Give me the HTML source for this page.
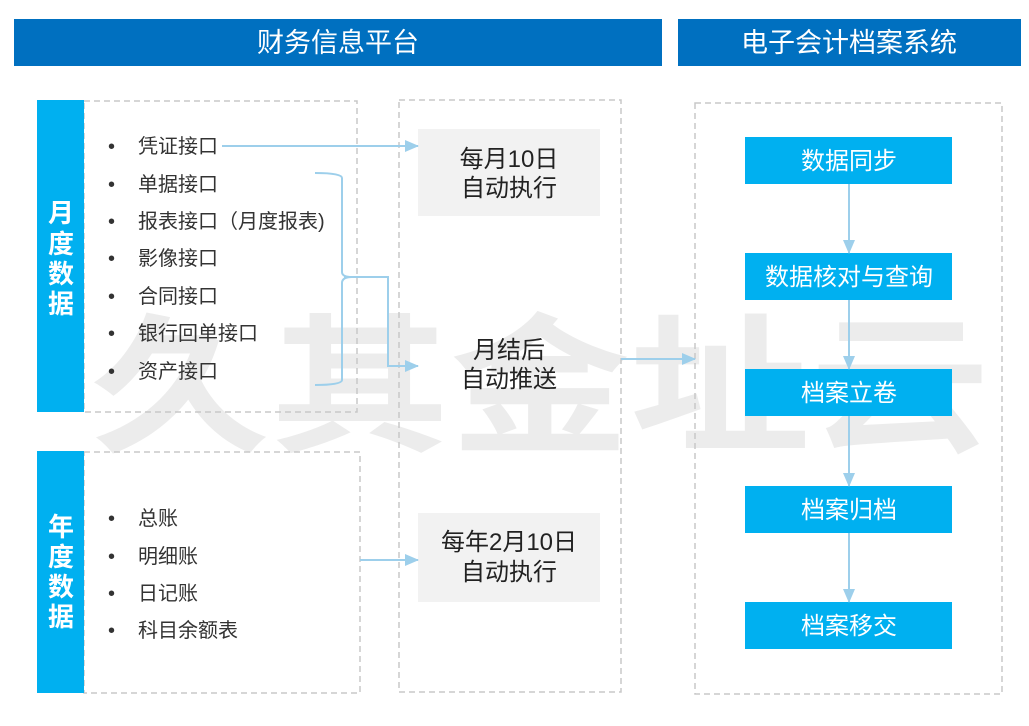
<!DOCTYPE html>
<html><head><meta charset="utf-8"><style>
body{margin:0;width:1029px;height:721px;background:#fff;overflow:hidden;font-family:"Liberation Sans","Noto Sans CJK SC",sans-serif}
svg text{font-family:"Liberation Sans","Noto Sans CJK SC",sans-serif}
</style></head><body>
<svg width="1029" height="721" viewBox="0 0 1029 721" xmlns="http://www.w3.org/2000/svg">
<defs><marker id="a" markerWidth="14" markerHeight="12" refX="13" refY="6" orient="auto" markerUnits="userSpaceOnUse"><path d="M0,0 L14,6 L0,12 Z" fill="#9dcfeb"/></marker></defs>
<g fill="#ececec" font-size="150" font-weight="bold"><text x="90" y="440" textLength="900" lengthAdjust="spacingAndGlyphs">久其金址云</text></g>
<rect x="14" y="19" width="648" height="47" fill="#0070c0"/>
<text x="338" y="52" fill="#fff" font-size="27" text-anchor="middle">财务信息平台</text>
<rect x="678" y="19" width="343" height="47" fill="#0070c0"/>
<text x="849" y="52" fill="#fff" font-size="27" text-anchor="middle">电子会计档案系统</text>
<g fill="none" stroke="#c8c8c8" stroke-width="1.5" stroke-dasharray="6,4">
<rect x="84" y="101" width="273" height="311"/>
<rect x="84" y="452" width="276" height="241"/>
<rect x="399" y="100" width="222" height="592"/>
<rect x="695" y="103" width="307" height="591"/>
</g>
<rect x="37" y="100" width="47" height="312" fill="#00b0f0"/>
<rect x="37" y="451" width="47" height="242" fill="#00b0f0"/>
<g fill="#fff" font-size="26" font-weight="bold" text-anchor="middle">
<text x="61" y="222">月</text><text x="61" y="253">度</text><text x="61" y="283">数</text><text x="61" y="313">据</text>
<text x="61" y="536">年</text><text x="61" y="566">度</text><text x="61" y="596">数</text><text x="61" y="626">据</text>
</g>
<g fill="#333" font-size="20">
<text x="108" y="153">•</text><text x="138" y="153">凭证接口</text>
<text x="108" y="191">•</text><text x="138" y="191">单据接口</text>
<text x="108" y="228">•</text><text x="138" y="228">报表接口（月度报表)</text>
<text x="108" y="265">•</text><text x="138" y="265">影像接口</text>
<text x="108" y="303">•</text><text x="138" y="303">合同接口</text>
<text x="108" y="340">•</text><text x="138" y="340">银行回单接口</text>
<text x="108" y="378">•</text><text x="138" y="378">资产接口</text>
<text x="108" y="525">•</text><text x="138" y="525">总账</text>
<text x="108" y="563">•</text><text x="138" y="563">明细账</text>
<text x="108" y="600">•</text><text x="138" y="600">日记账</text>
<text x="108" y="637">•</text><text x="138" y="637">科目余额表</text>
</g>
<rect x="418" y="129" width="182" height="87" fill="#f2f2f2"/>
<rect x="418" y="513" width="182" height="89" fill="#f2f2f2"/>
<g fill="#222" font-size="24" text-anchor="middle">
<text x="509" y="167">每月10日</text><text x="509" y="196">自动执行</text>
<text x="509" y="358">月结后</text><text x="509" y="387">自动推送</text>
<text x="509" y="550">每年2月10日</text><text x="509" y="580">自动执行</text>
</g>
<g fill="#00b0f0">
<rect x="745" y="137" width="207" height="47"/><rect x="745" y="253" width="207" height="47"/>
<rect x="745" y="369" width="207" height="47"/><rect x="745" y="486" width="207" height="47"/>
<rect x="745" y="602" width="207" height="47"/>
</g>
<g fill="#fff" font-size="24" text-anchor="middle">
<text x="849" y="169">数据同步</text><text x="849" y="285">数据核对与查询</text>
<text x="849" y="401">档案立卷</text><text x="849" y="518">档案归档</text><text x="849" y="634">档案移交</text>
</g>
<g fill="none" stroke="#9dcfeb" stroke-width="2">
<path d="M222,146 H418" marker-end="url(#a)"/>
<path d="M315,173 Q342,173 342,178 V272 Q342,277 352,277 Q342,277 342,283 V380 Q342,385 315,385"/>
<path d="M344,277 H388 V366 H418" marker-end="url(#a)"/>
<path d="M360,560 H418" marker-end="url(#a)"/>
<path d="M621,359 H695" marker-end="url(#a)"/>
<path d="M849,184 V253" marker-end="url(#a)"/>
<path d="M849,300 V369" marker-end="url(#a)"/>
<path d="M849,416 V486" marker-end="url(#a)"/>
<path d="M849,533 V602" marker-end="url(#a)"/>
</g>
</svg>
</body></html>
